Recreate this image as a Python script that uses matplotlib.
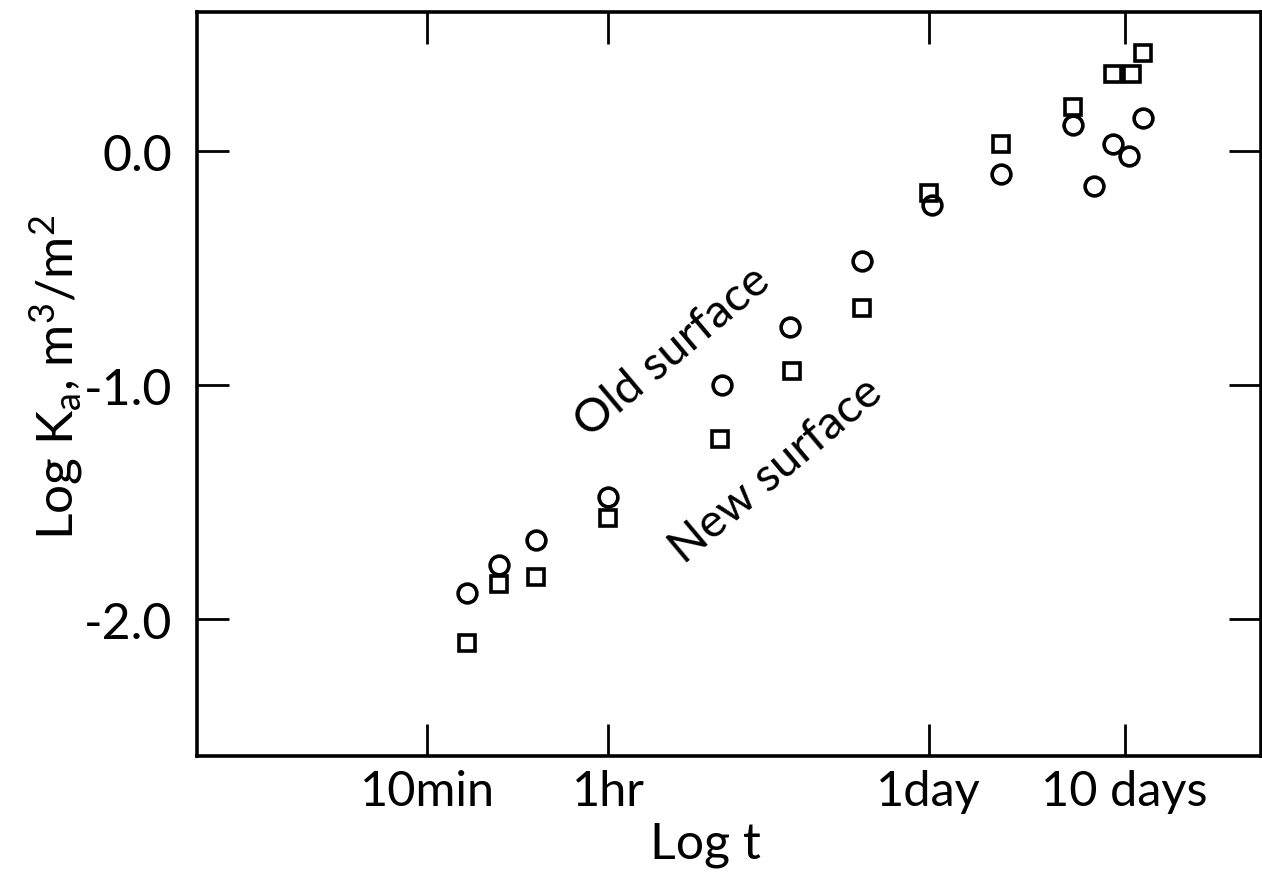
import matplotlib
matplotlib.use('Agg')
import matplotlib.pyplot as plt

# x is log10(t / min) as drawn on the original figure
tick_pos = [1.0, 1.778, 3.158, 4.0]
tick_labels = ["10min", "1hr", "1day", "10 days"]

# Old surface (circles)
old_x = [1.17, 1.31, 1.47, 1.78, 2.27, 2.56, 2.87, 3.17, 3.47, 3.78, 3.87, 3.95, 4.02, 4.08]
old_y = [-1.89, -1.77, -1.66, -1.48, -1.00, -0.75, -0.47, -0.23, -0.10, 0.11, -0.15, 0.03, -0.02, 0.14]

# New surface (squares)
new_x = [1.17, 1.31, 1.47, 1.78, 2.26, 2.57, 2.87, 3.16, 3.47, 3.78, 3.95, 4.03, 4.08]
new_y = [-2.10, -1.85, -1.82, -1.57, -1.23, -0.94, -0.67, -0.18, 0.03, 0.19, 0.33, 0.33, 0.42]

y_ticks = [0.0, -1.0, -2.0]
y_tick_labels = ["0.0", "-1.0", "-2.0"]

plt.rcParams['font.family'] = ['Lato', 'DejaVu Sans']
plt.rcParams['mathtext.fontset'] = 'custom'
plt.rcParams['mathtext.rm'] = 'Lato'
plt.rcParams['mathtext.it'] = 'Lato'

fig = plt.figure(figsize=(12.62, 8.78), dpi=100)
ax = fig.add_axes([0.1561, 0.1378, 0.8431, 0.8474])

ax.plot(old_x, old_y, linestyle='none', marker='o', markersize=13.5,
        markerfacecolor='none', markeredgecolor='black', markeredgewidth=2.6)
ax.plot(new_x, new_y, linestyle='none', marker='s', markersize=12,
        markerfacecolor='none', markeredgecolor='black', markeredgewidth=2.6)

ax.set_xlim(0.01, 4.587)
ax.set_ylim(-2.585, 0.594)

ax.set_xticks(tick_pos)
ax.set_xticklabels(tick_labels, fontsize=35)
ax.set_yticks(y_ticks)
ax.set_yticklabels(y_tick_labels, fontsize=36)

ax.tick_params(axis='both', direction='in', length=23, width=2,
               top=True, right=True)
ax.tick_params(axis='y', pad=18)
ax.tick_params(axis='x', pad=9)
for s in ax.spines.values():
    s.set_linewidth(2.6)

ax.set_xlabel("Log t", fontsize=36)
ax.xaxis.set_label_coords(0.478, -0.088)
ax.set_ylabel(r"Log K$_{\mathrm{a}}$, m$^{\mathrm{3}}$/m$^{\mathrm{2}}$", fontsize=37)
ax.yaxis.set_label_coords(-0.104, 0.51)

ax.text(2.055, -0.855, "Old surface", rotation=40, fontsize=34,
        ha='center', va='center', rotation_mode='anchor')
ax.text(2.50, -1.36, "New surface", rotation=40, fontsize=34,
        ha='center', va='center', rotation_mode='anchor')

fig.savefig("out.png", dpi=100)
